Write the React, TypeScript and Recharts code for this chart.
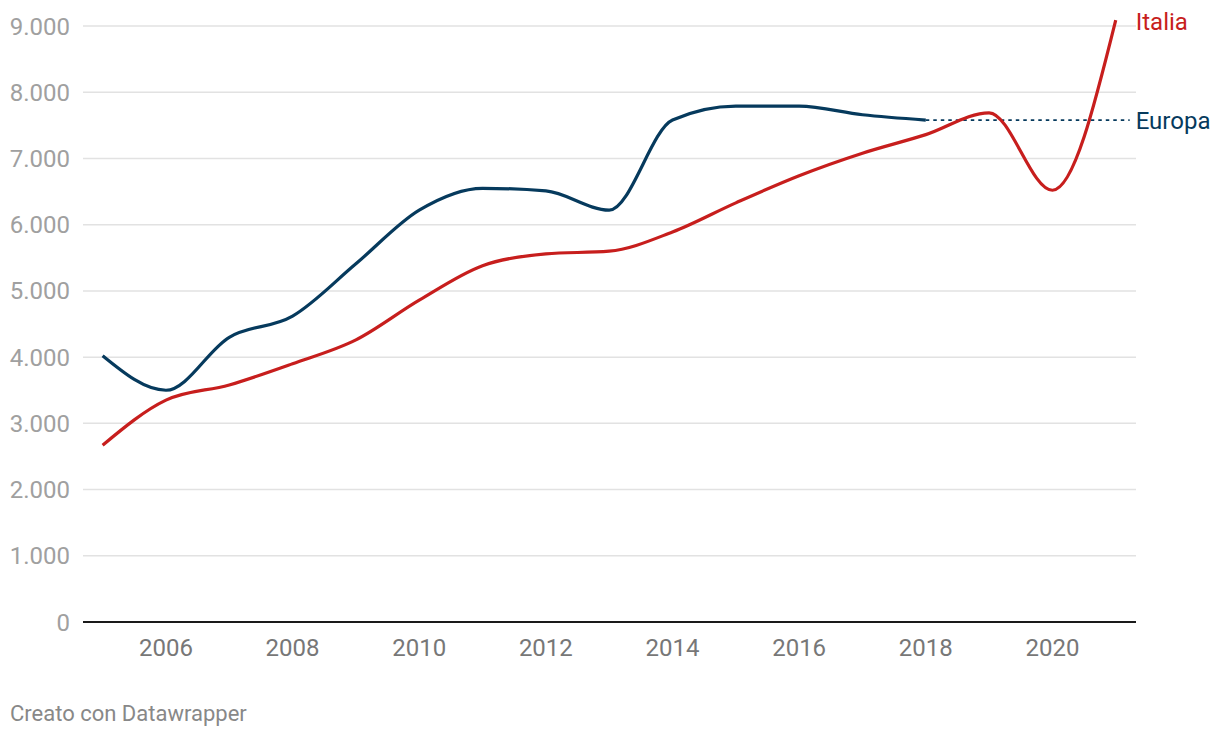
import { LineChart, Line, XAxis, YAxis, CartesianGrid, ReferenceLine } from 'recharts';

const years = [2005, 2006, 2007, 2008, 2009, 2010, 2011, 2012, 2013, 2014, 2015, 2016, 2017, 2018, 2019, 2020, 2021];
const italia = [2670, 3350, 3580, 3900, 4260, 4860, 5380, 5560, 5600, 5890, 6330, 6740, 7080, 7360, 7690, 6520, 9090];
const europa = [4020, 3500, 4300, 4620, 5410, 6220, 6550, 6510, 6220, 7580, 7790, 7790, 7660, 7580, null, null, null];
const yTicks = [0, 1000, 2000, 3000, 4000, 5000, 6000, 7000, 8000, 9000];
const xTicks = [2006, 2008, 2010, 2012, 2014, 2016, 2018, 2020];

// last europa value carried forward as a dotted line
const europaLastYear = 2018;
const europaLast = 7580;
const dottedEnd = 2021.22;

const RED = '#c71e1d';
const NAVY = '#063a5d';

const data = years.map((year, i) => ({ year, italia: italia[i], europa: europa[i] }));

const fmt = (v: number) => String(v).replace(/\B(?=(\d{3})+(?!\d))/g, '.');

export default function App() {
  return (
    <div style={{ position: 'absolute', left: 0, top: 0, width: 1220, height: 738, fontFamily: 'Roboto, sans-serif', background: '#fff' }}>
      <LineChart width={1220} height={680} data={data} margin={{ top: 12.8, right: 84, left: 0, bottom: 0 }}>
        <CartesianGrid vertical={false} horizontalValues={yTicks} stroke="#e2e2e2" strokeWidth={1.5} />
        <XAxis
          dataKey="year"
          type="number"
          domain={[2004.69, 2021.32]}
          ticks={xTicks}
          allowDataOverflow
          height={58}
          tickSize={0}
          tickMargin={17}
          axisLine={{ stroke: '#1a1a1a', strokeWidth: 2 }}
          tick={{ fill: '#777', fontSize: 24 }}
        />
        <YAxis
          type="number"
          domain={[0, 9200]}
          ticks={yTicks}
          width={83}
          tickSize={0}
          tickMargin={13}
          axisLine={false}
          tickFormatter={fmt}
          tick={{ fill: '#a0a0a0', fontSize: 24 }}
        />
        <ReferenceLine
          segment={[{ x: europaLastYear, y: europaLast }, { x: dottedEnd, y: europaLast }]}
          stroke={NAVY}
          strokeWidth={1.8}
          strokeDasharray="3.5 4"
          label={{ value: 'Europa', position: 'right', offset: 6, fill: NAVY, fontSize: 24 }}
        />
        <Line
          dataKey="europa"
          type="monotone"
          stroke={NAVY}
          strokeWidth={3.2}
          dot={false}
          isAnimationActive={false}
        />
        <Line
          dataKey="italia"
          type="monotone"
          stroke={RED}
          strokeWidth={3.2}
          dot={false}
          isAnimationActive={false}
          label={(p: any) =>
            p.index === years.length - 1 ? (
              <text key="lbl-italia" x={p.x + 20} y={p.y} dy="0.4em" fill={RED} fontSize={24}>
                Italia
              </text>
            ) : null
          }
        />
      </LineChart>
      <div style={{ position: 'absolute', left: 10, top: 701, fontSize: 22, color: '#888' }}>Creato con Datawrapper</div>
    </div>
  );
}
